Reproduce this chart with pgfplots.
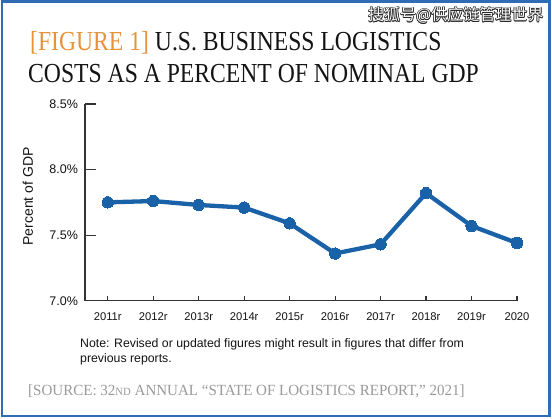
\documentclass[border=0pt]{standalone}
\usepackage{fontspec}
\usepackage{pgfplots}
\pgfplotsset{compat=1.18}
\setmainfont{Liberation Sans}
\newfontfamily\titlefont{Liberation Serif}
\newfontfamily\cjk{Noto Sans CJK SC}
\definecolor{frameblue}{HTML}{2E6DB4}
\definecolor{lineblue}{HTML}{1A62A8}
\definecolor{titleorange}{HTML}{E8923A}
\definecolor{srcgray}{HTML}{9A9A9A}
\definecolor{axisgray}{HTML}{333333}
\definecolor{titleblack}{HTML}{141414}

\pgfplotstableread{
x y
0 7.75
1 7.76
2 7.73
3 7.71
4 7.59
5 7.36
6 7.43
7 7.82
8 7.57
9 7.44
}\gdpdata

\begin{document}
\begin{tikzpicture}[x=1pt,y=1pt]
\useasboundingbox (0,0) rectangle (552,-419);
\fill[white] (0,0) rectangle (552,-419);
\draw[frameblue, line width=2.2pt] (2,-1.5) rectangle (549.5,-416);

% watermark
\foreach \dx/\dy in {0.7/0,-0.7/0,0/0.7,0/-0.7,0.5/0.5,-0.5/-0.5,0.5/-0.5,-0.5/0.5}{
  \node[anchor=base west, inner sep=0, text=black!85, font=\cjk\fontsize{16}{16}\selectfont] at (368+\dx,-21+\dy) {搜狐号@供应链管理世界};
}
\node[anchor=base west, inner sep=0, text=white, font=\cjk\fontsize{16}{16}\selectfont] at (368,-21) {搜狐号@供应链管理世界};

% title
\node[anchor=base west, inner sep=0, xscale=0.86, font=\titlefont\fontsize{27.5}{27.5}\selectfont, text=titleblack] at (30,-50.7)
  {\textcolor{titleorange}{[FIGURE 1]} U.S. BUSINESS LOGISTICS};
\node[anchor=base west, inner sep=0, xscale=0.86, font=\titlefont\fontsize{27.5}{27.5}\selectfont, text=titleblack] at (28,-83)
  {COSTS AS A PERCENT OF NOMINAL GDP};

\begin{axis}[
  at={(85pt,-300.7pt)}, anchor=south west,
  scale only axis, width=432pt, height=196.7pt,
  xmin=-0.5, xmax=9, ymin=7.0, ymax=8.5,
  axis lines=left, axis line style={-, axisgray, line width=1.3pt},
  ytick={7,7.5,8,8.5}, yticklabels={7.0\%,7.5\%,8.0\%,8.5\%},
  xtick={0,...,9},
  xticklabels={2011r,2012r,2013r,2014r,2015r,2016r,2017r,2018r,2019r,2020},
  tick align=inside,
  major tick length=11pt,
  xtick style={axisgray, line width=1.1pt, /pgfplots/major tick length=4.5pt},
  ytick style={axisgray, line width=1.1pt},
  yticklabel style={font=\fontsize{12.5}{12.5}\selectfont, text=titleblack, xshift=-3.5pt},
  xticklabel style={font=\fontsize{11.2}{11.2}\selectfont, text=titleblack, yshift=-8pt},
  ylabel={Percent of GDP},
  every axis y label/.style={at={(axis description cs:-0.132,0.53)}, rotate=90, anchor=center,
     font=\fontsize{14}{14}\selectfont, text=titleblack},
  clip=false,
]
\addplot[lineblue, line width=4.3pt, line join=round, mark=*, mark size=5.7pt,
  mark options={fill=lineblue, draw=lineblue, line width=0pt}] table[x=x,y=y] {\gdpdata};
\end{axis}

% note
\node[anchor=base west, inner sep=0, font=\fontsize{12.3}{15}\selectfont, text=titleblack] at (80,-348)
  {Note: Revised or updated figures might result in figures that differ from};
\node[anchor=base west, inner sep=0, font=\fontsize{12.3}{15}\selectfont, text=titleblack] at (80,-363)
  {previous reports.};

% source
\node[anchor=base west, inner sep=0, xscale=0.97, font=\titlefont\fontsize{15.5}{15.5}\selectfont, text=srcgray] at (28,-396)
  {[SOURCE: 32{\fontsize{11}{11}\selectfont ND} ANNUAL “STATE OF LOGISTICS REPORT,” 2021]};
\end{tikzpicture}
\end{document}
